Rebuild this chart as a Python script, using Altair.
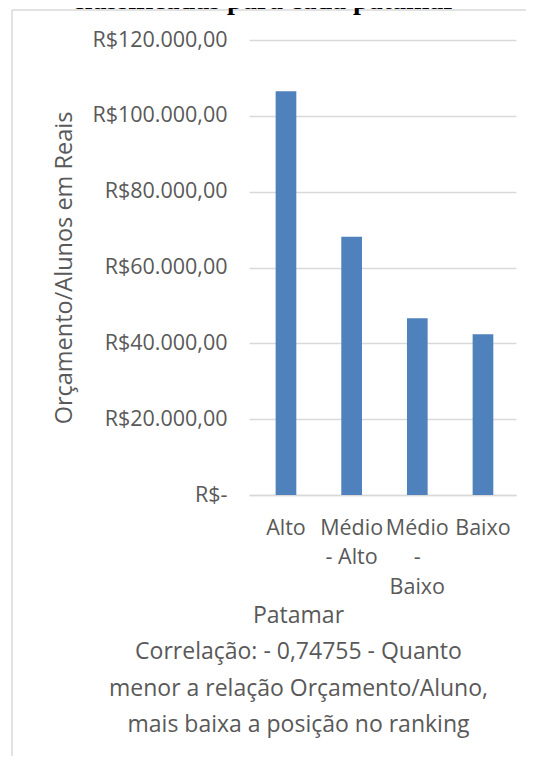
import altair as alt
import pandas as pd

# ---- data ----
patamares = ["Alto", "Médio - Alto", "Médio - Baixo", "Baixo"]
rotulos = [["Alto"], ["Médio", "- Alto"], ["Médio", "-", "Baixo"], ["Baixo"]]
valores = [106500, 68100, 46600, 42400]
y_ticks = [0, 20000, 40000, 60000, 80000, 100000, 120000]
titulo = ["classificadas para cada patamar"]
eixo_x = ["Patamar",
          "Correlação: - 0,74755 - Quanto",
          "menor a relação Orçamento/Aluno,",
          "mais baixa a posição no ranking"]
eixo_y = "Orçamento/Alunos em Reais"

FONT = "Open Sans"
GREY = "#595959"
LIGHT = "#D9D9D9"
BLUE = "#4F81BD"

df = pd.DataFrame({"patamar": patamares, "valor": valores})


def js_list(items):
    return "[" + ",".join("'" + s + "'" for s in items) + "]"


x_label_expr = ""
for p, r in zip(patamares, rotulos):
    x_label_expr += f"datum.value == '{p}' ? {js_list(r)} : "
x_label_expr += "datum.label"

y_label_expr = ("datum.value == 0 ? 'R$-' : 'R$' + format(datum.value / 1000, 'd') + '.000,00'")

bars = alt.Chart(df).mark_bar(color=BLUE).encode(
    x=alt.X(
        "patamar:N",
        sort=patamares,
        scale=alt.Scale(paddingInner=0.685, paddingOuter=0.3755, align=0.54),
        axis=alt.Axis(
            title=eixo_x,
            labelExpr=x_label_expr,
            labelAngle=0,
            labelFont=FONT,
            labelFontSize=21.5,
            labelColor=GREY,
            labelLineHeight=29.5,
            labelPadding=22,
            labelOverlap=False,
            labelBound=False,
            ticks=False,
            tickSize=0,
            domain=True,
            domainColor=LIGHT,
            domainWidth=1.5,
            titleX=49,
            titleY=127,
            titleAlign="center",
            titleBaseline="alphabetic",
            titleAngle=0,
            titleFont=FONT,
            titleFontSize=23,
            titleFontWeight="normal",
            titleColor=GREY,
            titleLineHeight=36.5,
        ),
    ),
    y=alt.Y(
        "valor:Q",
        scale=alt.Scale(domain=[0, 120000], nice=False),
        axis=alt.Axis(
            values=y_ticks,
            labelExpr=y_label_expr,
            grid=True,
            gridColor=LIGHT,
            gridWidth=1.5,
            domain=False,
            ticks=False,
            tickSize=0,
            labelPadding=22,
            labelFont=FONT,
            labelFontSize=21.5,
            labelColor=GREY,
            title=eixo_y,
            titleX=-185,
            titleY=227.5,
            titleAngle=-90,
            titleAlign="center",
            titleBaseline="middle",
            titleFont=FONT,
            titleFontSize=23.5,
            titleFontWeight="normal",
            titleColor=GREY,
        ),
    ),
)

frame_data = alt.Data(values=[{"k": 1}])
left_border = alt.Chart(frame_data).mark_rule(color=LIGHT, strokeWidth=1.5).encode(
    x=alt.value(-237), y=alt.value(-30), y2=alt.value(720)
)
top_border = alt.Chart(frame_data).mark_rule(color=LIGHT, strokeWidth=1.5).encode(
    x=alt.value(-237), x2=alt.value(300), y=alt.value(-30)
)

title_df = pd.DataFrame({"t": titulo})
title = alt.Chart(title_df).mark_text(
    font="Liberation Serif", fontSize=28, fontWeight="bold", color="black",
    align="center", baseline="alphabetic"
).encode(x=alt.value(15), y=alt.value(-31), text="t:N")

chart = alt.layer(left_border, top_border, bars, title).properties(
    width=267,
    height=455,
    autosize=alt.AutoSizeParams(type="none"),
    padding={"left": 241, "top": 32, "right": 10, "bottom": 261},
).configure_view(stroke=None)

chart.save("out.html", embed_options={"renderer": "svg", "actions": False})
